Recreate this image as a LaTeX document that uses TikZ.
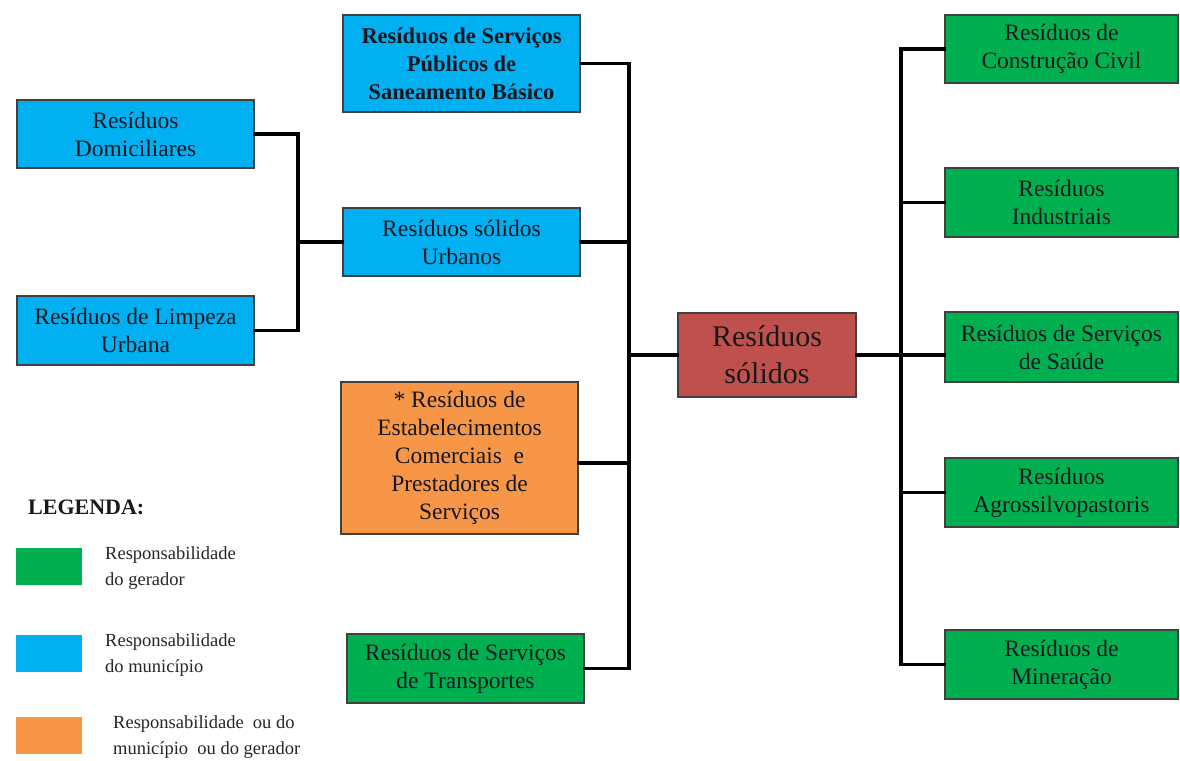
\documentclass[tikz,border=0pt]{standalone}
\usepackage{fontspec}
\setmainfont{Liberation Serif}
\definecolor{skyfill}{HTML}{00B0F0}
\definecolor{genfill}{HTML}{00B050}
\definecolor{mixfill}{HTML}{F79646}
\definecolor{rootfill}{HTML}{C0504D}
\definecolor{inktext}{HTML}{14171F}
\begin{document}
\begin{tikzpicture}[x=1pt,y=-1pt,
  box/.style={draw=black!75, line width=1.2pt, inner sep=0pt, align=center,
    text=inktext, font=\fontsize{23.5}{28}\selectfont},
  wide/.style={minimum width=237pt},
  rbox/.style={box, fill=genfill, minimum width=233pt},
  wire/.style={line width=3.6pt, line cap=rect, line join=miter},
  swatch/.style={draw=none, inner sep=0pt, minimum width=66pt, minimum height=37pt},
  legtext/.style={anchor=west, align=left, inner sep=0pt, text=black!85,
    font=\fontsize{18.5}{26}\selectfont}]
\useasboundingbox (0,0) rectangle (1180,760);
\fill[white] (0,0) rectangle (1180,760);

% municipal branch on the left
\node[box, wide, fill=skyfill, minimum height=68pt] (dom) at (135.5,134) {Resíduos\\Domiciliares};
\node[box, wide, fill=skyfill, minimum height=69pt] (limp) at (135.5,330.5) {Resíduos de Limpeza\\Urbana};
\node[box, wide, fill=skyfill, minimum height=68pt] (urb) at (461.5,242) {Resíduos sólidos\\Urbanos};
\node[box, wide, fill=skyfill, minimum height=97pt, font=\bfseries\fontsize{22.5}{28}\selectfont] (san) at (461.5,63.5)
  {Resíduos de Serviços\\Públicos de\\Saneamento Básico};
\node[box, wide, fill=mixfill, minimum height=152pt] (ora) at (459.5,458)
  {* Resíduos de\\Estabelecimentos\\Comerciais\ \ e\\Prestadores de\\Serviços};
\node[box, wide, fill=genfill, minimum height=69pt] (tra) at (465.5,668.5) {Resíduos de Serviços\\de Transportes};

% root
\node[box, fill=rootfill, minimum width=178pt, minimum height=84pt, text=black!90,
  font=\fontsize{30}{37}\selectfont] (root) at (767,355) {Resíduos\\sólidos};

% generator branch on the right
\node[rbox, minimum height=68pt] (con) at (1061.5,49) {Resíduos de\\Construção Civil};
\node[rbox, minimum height=69pt] (ind) at (1061.5,202.5) {Resíduos\\Industriais};
\node[rbox, minimum height=70pt] (sau) at (1061.5,347) {Resíduos de Serviços\\de Saúde};
\node[rbox, minimum height=69pt] (agr) at (1061.5,492.5) {Resíduos\\Agrossilvopastoris};
\node[rbox, minimum height=69pt] (mine) at (1061.5,664.5) {Resíduos de\\Mineração};

% junction points of the buses
\coordinate (jl) at (298,242);
\coordinate (bl) at (629,355);
\coordinate (br) at (901,355);

% connectors
\draw[wire] (dom.east) -- (dom.east -| jl) |- (limp.east);
\draw[wire] (jl) -- (urb.west);
\draw[wire] (san.east) -- (san.east -| bl) |- (tra.east);
\draw[wire] (urb.east) -- (urb.east -| bl);
\draw[wire] ([yshift=-5pt]ora.east) -- ([yshift=-5pt]ora.east -| bl);
\draw[wire] (bl) -- (root.west);
\draw[wire] (root.east) -- (br);
\draw[wire] (con.west) -- (con.west -| br) |- (mine.west);
\draw[wire] (ind.west) -- (ind.west -| br);
\draw[wire] (br) -- (br -| sau.west);
\draw[wire] (agr.west) -- (agr.west -| br);

% legend
\node[anchor=west, inner sep=0pt, text=black!90, font=\bfseries\fontsize{22}{26}\selectfont] (leg) at (28,507) {LEGENDA:};
\node[swatch, fill=genfill, anchor=north west] (sg) at (16,548) {};
\node[swatch, fill=skyfill, anchor=north west] (sb) at (16,635) {};
\node[swatch, fill=mixfill, anchor=north west] (so) at (16,717) {};
\node[legtext] (tg) at (105,568) {Responsabilidade\\do gerador};
\node[legtext] (tb) at (105,655) {Responsabilidade\\do município};
\node[legtext] (to) at (113,737) {Responsabilidade\ \ ou do\\município\ \ ou do gerador};
\end{tikzpicture}
\end{document}
